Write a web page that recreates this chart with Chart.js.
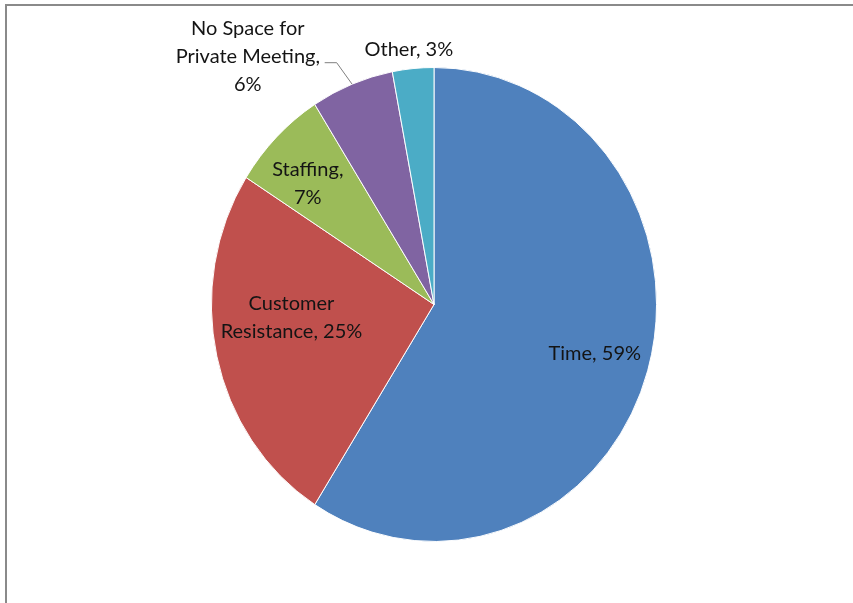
<!DOCTYPE html>
<html>
<head>
<meta charset="utf-8">
<script src="https://cdn.jsdelivr.net/npm/chart.js@4.4.1/dist/chart.umd.min.js"></script>
<style>
  html, body { margin: 0; padding: 0; background: #fff; }
  #wrap { position: relative; width: 853px; height: 603px; }
</style>
</head>
<body>
<div id="wrap"><canvas id="c" width="853" height="603"></canvas></div>
<script>
// Survey answers: main barriers, share of responses (%)
const categories = ['Time', 'Customer Resistance', 'Staffing', 'No Space for Private Meeting', 'Other'];
const shares = [59, 25, 7, 6, 3];
// Label text as printed next to each slice (line breaks included)
const labelLines = [
  ['Time, 59%'],
  ['Customer', 'Resistance, 25%'],
  ['Staffing,', '7%'],
  ['No Space for', 'Private Meeting,', '6%'],
  ['Other, 3%']
];
const sliceColors = ['#4F81BD', '#C0504D', '#9BBB59', '#8064A2', '#4BACC6'];

// Label placement relative to each slice: radial factor and angle nudge (deg)
const labelPlacement = [
  { r: 0.752, da: -0.1 },
  { r: 0.643, da: 7.5 },
  { r: 0.763, da: -3.0 },
  { r: 1.338, da: -17.1, leader: true },
  { r: 1.08, da: -0.6 }
];

// The pie is drawn slightly narrower than tall
const SQUASH_X = 0.939;
const FONT = '20px Lato, "Open Sans", sans-serif';
const LINE_H = 28;

const framePlugin = {
  id: 'frame',
  beforeDraw(chart) {
    const ctx = chart.ctx;
    ctx.save();
    ctx.strokeStyle = '#8a8a8a';
    ctx.lineWidth = 2;
    ctx.beginPath();
    ctx.moveTo(6, 603);
    ctx.lineTo(6, 5);
    ctx.lineTo(853, 5);
    ctx.stroke();
    ctx.restore();
  }
};

const squash = {
  id: 'squash',
  beforeDatasetsDraw(chart) {
    const cx = chart.getDatasetMeta(0).data[0].x;
    const ctx = chart.ctx;
    ctx.save();
    ctx.translate(cx, 0);
    ctx.scale(SQUASH_X, 1);
    ctx.translate(-cx, 0);
  },
  afterDatasetsDraw(chart) {
    chart.ctx.restore();
  }
};

const sliceLabels = {
  id: 'sliceLabels',
  afterDatasetsDraw(chart) {
    const ctx = chart.ctx;
    const meta = chart.getDatasetMeta(0);
    ctx.save();
    ctx.font = FONT;
    ctx.fillStyle = '#141414';
    ctx.textAlign = 'center';
    ctx.textBaseline = 'middle';
    meta.data.forEach((arc, i) => {
      const p = arc.getProps(['x', 'y', 'startAngle', 'endAngle', 'outerRadius'], true);
      const at = (ang, f) => [
        p.x + Math.cos(ang) * p.outerRadius * f * SQUASH_X,
        p.y + Math.sin(ang) * p.outerRadius * f
      ];
      const mid = (p.startAngle + p.endAngle) / 2;
      const cfg = labelPlacement[i];
      const [lx, ly] = at(mid + cfg.da * Math.PI / 180, cfg.r);
      const lines = labelLines[i];
      const top = ly - (lines.length - 1) * LINE_H / 2;
      lines.forEach((t, k) => ctx.fillText(t, lx, top + k * LINE_H));
      if (cfg.leader) {
        const [sx, sy] = at(mid, 1.0);
        const [ex, ey] = at(mid - 1.6 * Math.PI / 180, 1.11);
        ctx.beginPath();
        ctx.strokeStyle = '#7f7f7f';
        ctx.lineWidth = 1;
        ctx.moveTo(sx, sy);
        ctx.lineTo(ex, ey);
        ctx.lineTo(ex - 12, ey);
        ctx.stroke();
      }
    });
    ctx.restore();
  }
};

new Chart(document.getElementById('c'), {
  type: 'pie',
  data: {
    labels: categories,
    datasets: [{
      data: shares,
      backgroundColor: sliceColors,
      borderColor: '#ffffff',
      borderWidth: 1
    }]
  },
  options: {
    responsive: false,
    animation: false,
    layout: { padding: { top: 67, bottom: 61, left: 15, right: 0 } },
    plugins: {
      legend: { display: false },
      tooltip: { enabled: false }
    }
  },
  plugins: [framePlugin, squash, sliceLabels]
});
</script>
</body>
</html>
